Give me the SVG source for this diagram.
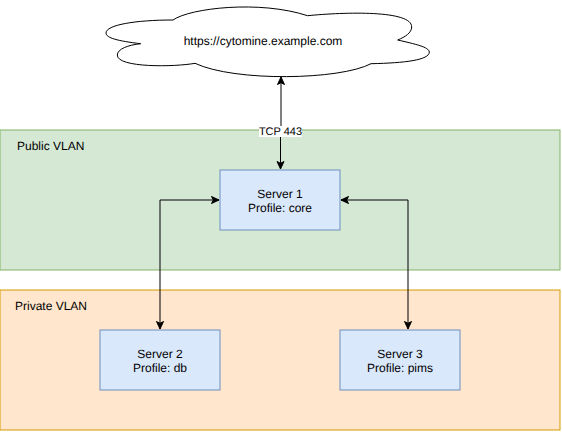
<svg xmlns="http://www.w3.org/2000/svg" width="562" height="432" viewBox="0 0 562 432">
<style>
text{font-family:"Liberation Sans",Arial,sans-serif;font-size:12px;fill:#000;text-rendering:geometricPrecision}
.m{text-anchor:middle}
.srv{fill:#dae8fc;stroke:#6c8ebf}
.line{fill:none;stroke:#000}
</style>
<defs>
<marker id="a" viewBox="0 0 10 10" refX="9" refY="5" markerWidth="10" markerHeight="10" orient="auto-start-reverse" markerUnits="userSpaceOnUse"><path d="M1.5 1.5L9 5L1.5 8.500L3.300 5Z" fill="#000" stroke="#000" stroke-miterlimit="3"/></marker>
</defs>
<g id="public-vlan"><rect x="0" y="130" width="560" height="140" fill="#d5e8d4" stroke="#82b366"/><text x="17" y="149.500">Public VLAN</text></g>
<g id="private-vlan"><rect x="0" y="290" width="560" height="140" fill="#ffe6cc" stroke="#d79b00"/><text x="15" y="309.500">Private VLAN</text></g>
<g id="connectors">
<path class="line" d="M281 77V126" marker-start="url(#a)"/>
<path class="line" d="M280.500 137V169" marker-end="url(#a)"/>
<path class="line" d="M219 200H160V329" marker-start="url(#a)" marker-end="url(#a)"/>
<path class="line" d="M341 200H408V329" marker-start="url(#a)" marker-end="url(#a)"/>
<rect x="259" y="126" width="43" height="11" fill="#fff"/>
<text class="m" x="280.500" y="135" style="font-size:11px">TCP 443</text>
</g>
<g id="cloud"><path d="M173 20C190 8 260 0 307.500 15.700C345 12 412 10 411.700 27C411.500 33 405 37 397.700 40C415 44 429 47 429.300 52C429.500 60 405 63 371 63.700C340 80 235 82 195 63.300C175 67 117 68 117.300 55C117.500 49 128 45 140.700 43.700C118 41 106 38 106 33C106 25 135 20 173 20Z" fill="#fff" stroke="#000"/><text class="m" x="263" y="45">https://cytomine.example.com</text></g>
<g id="server-1"><rect class="srv" x="220" y="170" width="120" height="60"/><text class="m" x="280" y="198">Server 1</text><text class="m" x="280" y="212">Profile: core</text></g>
<g id="server-2"><rect class="srv" x="100" y="330" width="120" height="60"/><text class="m" x="160" y="358">Server 2</text><text class="m" x="160" y="372">Profile: db</text></g>
<g id="server-3"><rect class="srv" x="340" y="330" width="120" height="60"/><text class="m" x="400" y="358">Server 3</text><text class="m" x="400" y="372">Profile: pims</text></g>
</svg>
